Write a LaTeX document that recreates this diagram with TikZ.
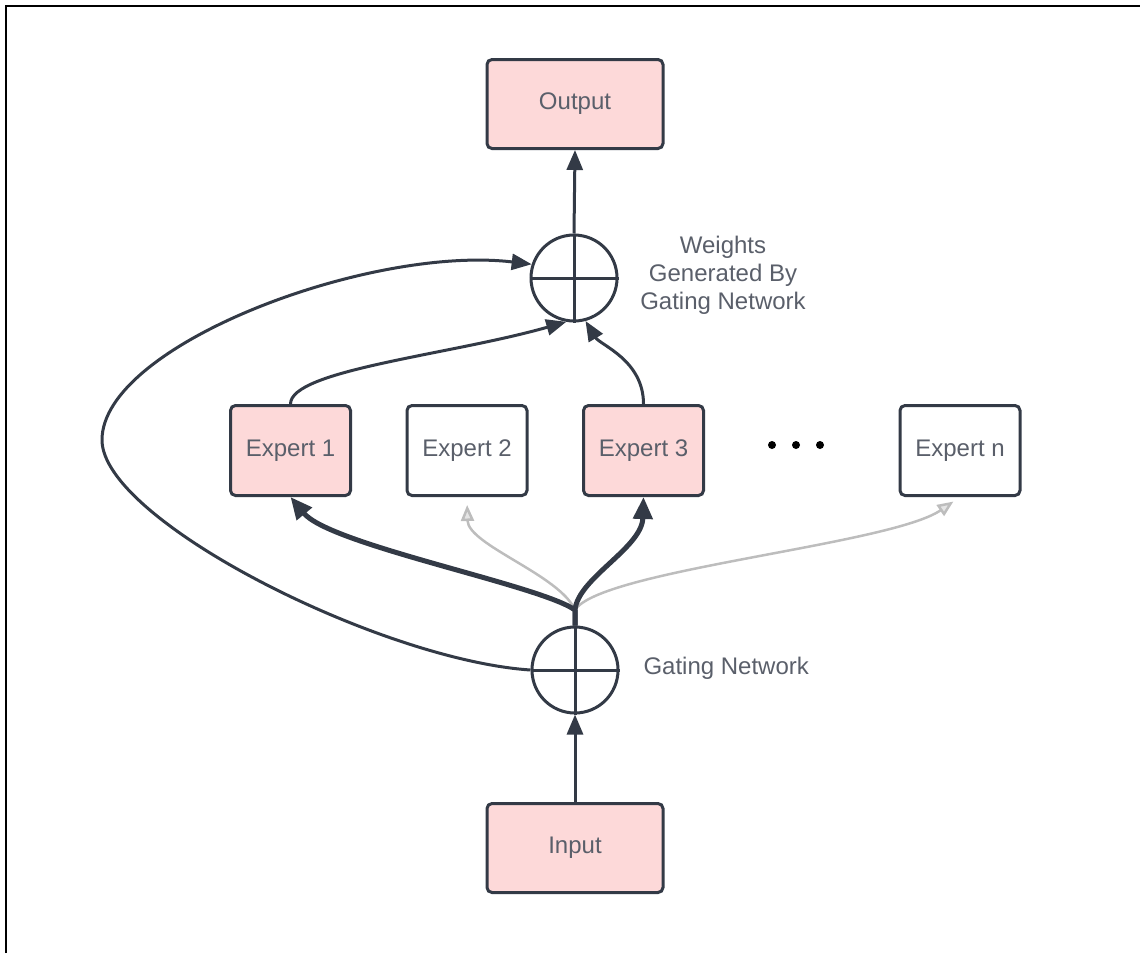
\documentclass[tikz,border=0pt]{standalone}
\usepackage{fontspec}
\setmainfont{Liberation Sans}
\usetikzlibrary{arrows.meta}
\definecolor{ink}{HTML}{333A46}
\definecolor{blush}{HTML}{FDD9D9}
\definecolor{label}{HTML}{5A5F6A}
\definecolor{faint}{HTML}{BDBDBD}
\tikzset{
  box/.style={draw=ink, line width=3pt, rounded corners=5pt, minimum width=120pt,
    minimum height=90pt, inner sep=0pt, text=label, font=\fontsize{24}{28}\selectfont},
  hot/.style={box, fill=blush},
  cold/.style={box, fill=white},
  io/.style={hot, minimum width=176pt, minimum height=89pt},
  sum/.style={circle, draw=ink, line width=3pt, minimum size=86pt, inner sep=0pt},
  cross/.style={draw=ink, line width=3pt},
  link/.style={draw=ink, line width=3pt, line join=round, -{Triangle[length=20pt,width=16pt]}},
  strong/.style={draw=ink, line width=5pt, line join=round, -{Triangle[length=22pt,width=19pt]}},
  weak/.style={draw=faint, line width=2.5pt, line join=round,
    -{Triangle[length=16pt,width=13pt,fill=faint!40]}, shorten >=8pt},
  caption/.style={text=label, font=\fontsize{24}{28}\selectfont, align=center},
  dot/.style={fill=black}
}
\begin{document}
\begin{tikzpicture}[x=1pt, y=-1pt]
  \useasboundingbox (0,0) rectangle (1140,953);
  % frame (top and left edges only)
  \draw[line width=2pt] (6,953) -- (6,6) -- (1140,6);

  % boxes
  \node[io]   (out) at (575,104) {Output};
  \node[io]   (in)  at (575,848) {Input};
  \node[hot]  (e1)  at (290.5,450.5) {Expert 1};
  \node[cold] (e2)  at (467,450.5) {Expert 2};
  \node[hot]  (e3)  at (643.5,450.5) {Expert 3};
  \node[cold] (en)  at (960,450.5) {Expert n};

  % summing junctions
  \node[sum] (top)  at (574,278) {};
  \node[sum] (gate) at (575,670) {};
  \draw[cross] (top.north) -- (top.south) (top.west) -- (top.east);
  \draw[cross] (gate.north) -- (gate.south) (gate.west) -- (gate.east);

  % labels
  \node[caption] (wlabel) at (723,275) {Weights\\Generated By\\Gating Network};
  \node[caption, anchor=west] (glabel) at (640,668) {Gating Network};

  % ellipsis between experts
  \fill[dot] (772,445) circle (4pt);
  \fill[dot] (796,445) circle (4pt);
  \fill[dot] (820,445) circle (4pt);

  % gating fan-out
  \coordinate (fan) at (575,610);
  \draw[weak] (gate.north) -- (fan) .. controls (560,575) and (468,545) .. (e2.south);
  \draw[weak] (gate.north) -- (fan) .. controls (600,570) and (890,545) .. (en.south);
  \draw[strong] (gate.north) -- (fan) .. controls (540,585) and (330,545) .. (e1.south);
  \draw[strong] (gate.north) -- (fan) .. controls (578,578) and (642,548) .. (e3.south);

  % main flow
  \draw[link] (in.north) -- (gate.south);
  \draw[link] (top.north) -- (out.south);

  % expert outputs into the weighted sum
  \draw[link] (e1.north) .. controls (290.5,370) and (450,355) .. (top.260);
  \draw[link] (e3.north) .. controls (643.5,360) and (600,345) .. (top.285);

  % gating weights loop
  \coordinate (bend) at (102,440);
  \draw[link] (gate.west) .. controls (380,660) and (102,520) .. (bend)
    .. controls (102,345) and (370,245) .. (top.162);
\end{tikzpicture}
\end{document}
